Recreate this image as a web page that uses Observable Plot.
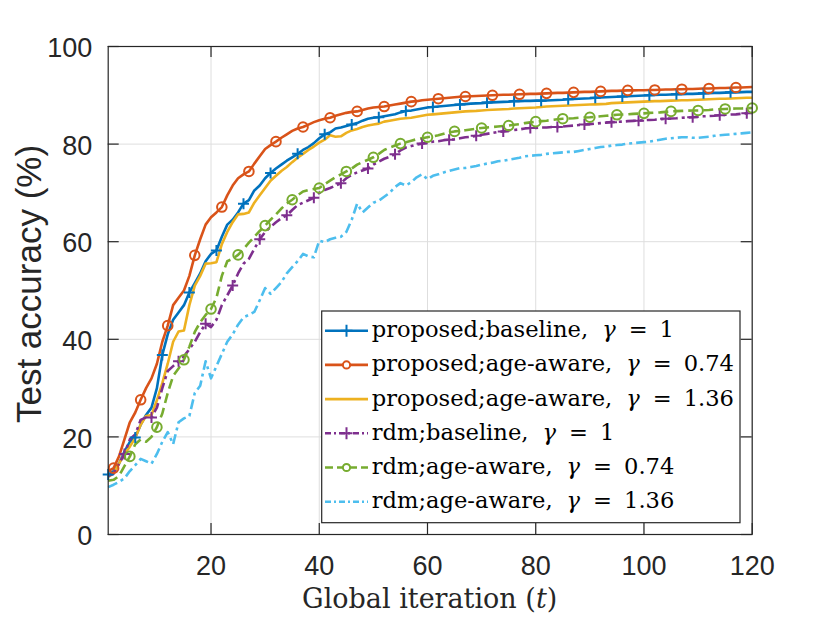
<!DOCTYPE html>
<html><head><meta charset="utf-8">
<script src="https://cdn.jsdelivr.net/npm/d3@7"></script>
<script src="https://cdn.jsdelivr.net/npm/@observablehq/plot@0.6"></script>
<style>body{margin:0;background:#fff}#chart{width:830px;height:623px}</style>
</head><body><div id="chart"></div>
<script>
// ---- data ----
const iterations = d3.range(1, 121);
const xTicks = [20, 40, 60, 80, 100, 120];
const yTicks = [0, 20, 40, 60, 80, 100];

const proposedBaseline = [12.3,13.0,14.5,17.0,19.0,19.9,22.5,24.5,26.0,30.0,36.8,41.0,44.0,45.5,47.0,49.6,51.5,53.5,56.0,57.5,
58.2,61.0,63.5,64.5,66.0,67.8,68.5,70.5,71.5,73.0,74.1,75.0,75.8,76.6,77.3,78.0,78.8,79.4,80.2,81.2,
82.0,82.4,83.2,83.4,83.7,84.0,84.3,84.8,85.2,85.4,85.5,85.7,85.9,86.1,86.5,86.8,86.9,87.1,87.3,87.5,
87.6,87.7,87.8,87.9,88.0,88.1,88.2,88.3,88.35,88.4,88.5,88.55,88.6,88.65,88.7,88.8,88.8,88.85,88.85,88.9,
88.9,88.95,89.0,89.05,89.1,89.2,89.25,89.3,89.35,89.4,89.5,89.55,89.6,89.65,89.7,89.75,89.8,89.85,89.9,89.95,
90.0,90.05,90.1,90.1,90.15,90.2,90.25,90.3,90.3,90.35,90.4,90.45,90.5,90.5,90.55,90.6,90.6,90.65,90.7,90.7];

const proposedAge074 = [13.0,13.6,16.0,19.5,23.0,25.0,27.6,30.0,32.0,35.0,39.5,42.8,47.0,48.5,50.0,53.0,57.2,60.5,63.5,65.0,
66.0,67.1,69.5,71.5,73.0,73.8,74.4,76.0,77.5,79.0,79.8,80.5,81.3,82.0,82.7,83.2,83.5,84.0,84.5,84.9,
85.2,85.4,85.8,86.1,86.4,86.6,86.7,87.0,87.3,87.5,87.6,87.7,87.9,88.1,88.3,88.5,88.7,88.8,89.0,89.1,
89.2,89.3,89.4,89.5,89.6,89.7,89.75,89.8,89.85,89.9,89.95,90.0,90.05,90.1,90.1,90.15,90.2,90.25,90.3,90.3,
90.35,90.4,90.45,90.5,90.5,90.55,90.6,90.65,90.7,90.7,90.75,90.8,90.85,90.9,90.9,90.95,91.0,91.0,91.05,91.05,
91.1,91.1,91.15,91.2,91.2,91.25,91.25,91.3,91.3,91.35,91.4,91.4,91.45,91.5,91.5,91.55,91.6,91.6,91.65,91.7];

const proposedAge136 = [11.8,12.5,14.5,16.5,18.0,19.8,22.5,24.3,24.5,27.5,31.0,35.0,39.5,41.6,41.8,47.0,51.0,53.0,55.5,55.6,
55.8,59.5,62.0,64.0,65.6,65.7,66.0,68.0,69.5,71.0,72.5,73.5,74.5,75.3,76.3,77.2,78.0,78.8,79.5,80.3,
80.9,81.8,81.5,81.6,82.3,82.8,83.1,83.5,83.8,84.0,84.2,84.6,84.8,85.0,85.2,85.3,85.4,85.6,85.8,86.0,
86.1,86.2,86.3,86.4,86.5,86.6,86.7,86.75,86.8,86.9,87.0,87.05,87.1,87.15,87.2,87.3,87.35,87.4,87.45,87.5,
87.6,87.7,87.75,87.8,87.85,87.9,87.95,88.0,88.05,88.1,88.15,88.2,88.25,88.4,88.45,88.5,88.55,88.6,88.65,88.7,
88.75,88.8,88.8,88.85,88.9,88.95,89.0,89.0,89.05,89.1,89.15,89.2,89.25,89.3,89.3,89.35,89.4,89.45,89.5,89.5];

const rdmBaseline = [12.0,12.5,14.5,16.5,19.5,20.5,23.5,24.0,24.0,26.0,30.0,33.5,34.5,35.5,36.5,38.0,39.5,41.5,43.2,42.5,
44.0,47.0,49.0,51.0,53.5,55.5,56.5,58.5,60.5,62.0,63.0,64.0,64.8,65.4,66.5,67.5,68.0,68.5,69.0,70.0,
70.6,71.0,71.5,72.0,73.0,73.7,74.2,74.6,75.0,75.8,76.4,77.0,77.4,77.9,78.7,79.3,79.6,79.9,80.1,80.3,
80.5,80.6,80.8,80.9,81.0,81.2,81.4,81.5,81.7,81.9,82.1,82.3,82.5,82.6,82.8,82.9,83.0,83.2,83.3,83.3,
83.4,83.4,83.5,83.5,83.6,83.7,83.8,83.9,84.0,84.1,84.2,84.3,84.4,84.5,84.55,84.6,84.7,84.75,84.8,84.9,
84.95,85.0,85.1,85.2,85.25,85.3,85.4,85.45,85.5,85.6,85.7,85.75,85.8,85.9,86.0,86.05,86.1,86.2,86.3,86.4];

const rdmAge074 = [11.0,11.2,12.0,14.0,16.0,18.5,19.5,19.0,20.0,22.0,24.8,29.0,32.5,34.0,35.8,38.5,41.5,43.5,45.0,46.2,
48.5,53.0,56.0,56.5,57.3,58.5,59.8,61.0,62.2,63.3,64.5,65.6,66.8,67.8,68.6,69.5,70.3,70.6,70.8,71.0,
71.8,72.5,73.2,73.8,74.4,75.0,75.8,76.3,76.8,77.3,78.0,78.8,79.3,79.7,80.1,80.4,80.7,81.0,81.2,81.4,
81.6,81.8,82.1,82.4,82.6,82.7,82.85,83.0,83.15,83.3,83.4,83.5,83.6,83.7,83.8,83.95,84.1,84.3,84.45,84.6,
84.7,84.8,84.95,85.1,85.2,85.25,85.3,85.4,85.45,85.5,85.6,85.7,85.8,85.9,86.0,86.05,86.1,86.2,86.25,86.3,
86.4,86.45,86.5,86.6,86.7,86.75,86.8,86.85,86.9,86.9,86.95,87.0,87.1,87.15,87.2,87.25,87.3,87.3,87.35,87.4];

const rdmAge136 = [9.7,10.2,10.8,11.5,13.0,14.2,15.5,15.0,14.5,16.5,19.0,21.0,18.5,23.0,23.8,24.3,29.0,30.5,35.5,32.0,
34.5,37.0,39.5,41.0,43.0,44.5,45.0,45.6,48.0,50.5,49.3,50.5,51.7,53.5,54.8,56.0,57.5,57.0,56.8,60.2,
59.9,60.5,60.8,61.0,62.0,64.5,67.8,66.0,67.0,68.0,68.4,69.2,70.0,71.2,72.0,71.5,72.2,73.2,73.8,72.8,
73.5,73.8,74.2,74.5,74.8,75.1,75.1,75.3,75.5,75.8,76.0,76.2,76.5,76.6,76.8,77.0,77.2,77.5,77.6,77.7,
77.8,78.0,78.1,78.2,78.3,78.4,78.4,78.6,78.8,79.0,79.2,79.4,79.5,79.7,79.8,79.9,80.1,80.2,80.3,80.4,
80.5,80.7,80.9,81.1,81.2,81.3,81.4,81.4,81.3,81.3,81.4,81.5,81.7,81.8,81.9,82.0,82.1,82.2,82.3,82.4];

const seriesNames = ["proposed;baseline,", "proposed;age-aware,", "proposed;age-aware,", "rdm;baseline,", "rdm;age-aware,", "rdm;age-aware,"];
const gammaLabels = ["1", "0.74", "1.36", "1", "0.74", "1.36"];
const seriesValues = [proposedBaseline, proposedAge074, proposedAge136, rdmBaseline, rdmAge074, rdmAge136];
const seriesColors = ["#0072BD", "#D95319", "#EDB120", "#7E2F8E", "#77AC30", "#4DBEEE"];
const seriesDash = [null, null, null, "10,4,3,4", "10,5", "10,4,3,4"];
const seriesMarker = ["plus", "circle", null, "plus", "circle", null];
const markerFirst = [1, 2, null, 4, 5, null];
const markerStep = 5;

// ---- drawing ----
const W = 830, H = 623;
const mL = 107.7, mR = 78.3, mT = 46, mB = 89;
const plotW = W - mL - mR, plotH = H - mT - mB;
const tickLen = 11;

const plusSymbol = {
  draw(ctx, size) {
    const r = Math.sqrt(size) / 2;
    ctx.moveTo(-r, 0); ctx.lineTo(r, 0);
    ctx.moveTo(0, -r); ctx.lineTo(0, r);
  }
};

const lineMarks = seriesValues.map((vals, s) =>
  Plot.line(vals, {
    x: (d, i) => iterations[i], y: d => d,
    stroke: seriesColors[s], strokeWidth: 2.6,
    strokeDasharray: seriesDash[s], strokeLinejoin: "round", strokeLinecap: "butt"
  })
);

const markerMarks = [];
seriesValues.forEach((vals, s) => {
  if (!seriesMarker[s]) return;
  const pts = iterations
    .map((t, i) => ({t, v: vals[i]}))
    .filter(d => (d.t - markerFirst[s]) % markerStep === 0);
  markerMarks.push(Plot.dot(pts, {
    x: "t", y: "v",
    symbol: seriesMarker[s] === "plus" ? plusSymbol : "circle",
    r: seriesMarker[s] === "plus" ? 6.2 : 4.8,
    stroke: seriesColors[s], fill: "none", strokeWidth: 2
  }));
});

const axisFont = "'Liberation Sans', Arial, Helvetica, sans-serif";
const serifFont = "'DejaVu Serif', 'Liberation Serif', serif";

const chart = Plot.plot({
  width: W, height: H,
  marginLeft: mL, marginRight: mR, marginTop: mT, marginBottom: mB,
  x: {domain: [1, 120]},
  y: {domain: [0, 100]},
  style: {background: "white", fontFamily: axisFont, color: "#262626"},
  marks: [
    Plot.gridX(xTicks, {stroke: "#dedede", strokeOpacity: 1, strokeWidth: 1}),
    Plot.gridY(yTicks, {stroke: "#dedede", strokeOpacity: 1, strokeWidth: 1}),
    ...lineMarks,
    ...markerMarks,
    Plot.frame({stroke: "#262626", strokeWidth: 1.2}),
    Plot.tickX(xTicks, {x: d => d, insetTop: plotH - tickLen, stroke: "#262626", strokeWidth: 1.2}),
    Plot.tickX(xTicks, {x: d => d, insetBottom: plotH - tickLen, stroke: "#262626", strokeWidth: 1.2}),
    Plot.tickY(yTicks, {y: d => d, insetRight: plotW - tickLen, stroke: "#262626", strokeWidth: 1.2}),
    Plot.tickY(yTicks, {y: d => d, insetLeft: plotW - tickLen, stroke: "#262626", strokeWidth: 1.2}),
    Plot.axisX(xTicks, {anchor: "bottom", tickSize: 0, tickPadding: 21, label: null, fontSize: 27, fill: "#262626"}),
    Plot.axisY(yTicks, {anchor: "left", tickSize: 0, tickPadding: 16, label: null, fontSize: 27, fill: "#262626", dy: 2})
  ]
});

const svg = d3.select(chart);

// axis titles
const xl = svg.append("text")
  .attr("x", mL + plotW / 2).attr("y", 608)
  .attr("text-anchor", "middle")
  .attr("font-family", serifFont).attr("font-size", 27).attr("fill", "#262626");
xl.append("tspan").text("Global iteration (");
xl.append("tspan").attr("font-style", "italic").text("t");
xl.append("tspan").text(")");

svg.append("text")
  .attr("transform", `translate(41,${mT + plotH / 2 - 6}) rotate(-90)`)
  .attr("text-anchor", "middle")
  .attr("font-family", axisFont).attr("font-size", 35).attr("fill", "#262626")
  .text("Test accuracy (%)");

// legend
const lg = svg.append("g");
const lx = 321.7, ly = 311, lw = 418.3, lh = 211.7;
lg.append("rect").attr("x", lx).attr("y", ly).attr("width", lw).attr("height", lh)
  .attr("fill", "white").attr("stroke", "#262626").attr("stroke-width", 1.2);
seriesNames.forEach((name, s) => {
  const cy = 330.7 + s * 34.2;
  lg.append("line").attr("x1", 325).attr("x2", 368).attr("y1", cy).attr("y2", cy)
    .attr("stroke", seriesColors[s]).attr("stroke-width", 2.6)
    .attr("stroke-dasharray", seriesDash[s] ? (s === 4 ? "8,4" : "6,3,2,3") : null);
  if (seriesMarker[s] === "plus") {
    lg.append("path").attr("d", `M340.5,${cy}h12M346.5,${cy - 6}v12`)
      .attr("stroke", seriesColors[s]).attr("stroke-width", 2).attr("fill", "none");
  } else if (seriesMarker[s] === "circle") {
    lg.append("circle").attr("cx", 346.5).attr("cy", cy).attr("r", 3.6)
      .attr("stroke", seriesColors[s]).attr("stroke-width", 2).attr("fill", "white");
  }
  const tx = lg.append("text").attr("x", 371.7).attr("y", cy + 6.5)
    .attr("text-anchor", "start")
    .attr("font-family", serifFont).attr("font-size", 22.6).attr("fill", "#000");
  tx.append("tspan").text(name);
  tx.append("tspan").attr("dx", 14).attr("font-style", "italic").text("γ");
  tx.append("tspan").attr("dx", 13).text("=");
  tx.append("tspan").attr("dx", 12).text(gammaLabels[s]);
});

document.getElementById("chart").appendChild(chart);
</script>
</body></html>
